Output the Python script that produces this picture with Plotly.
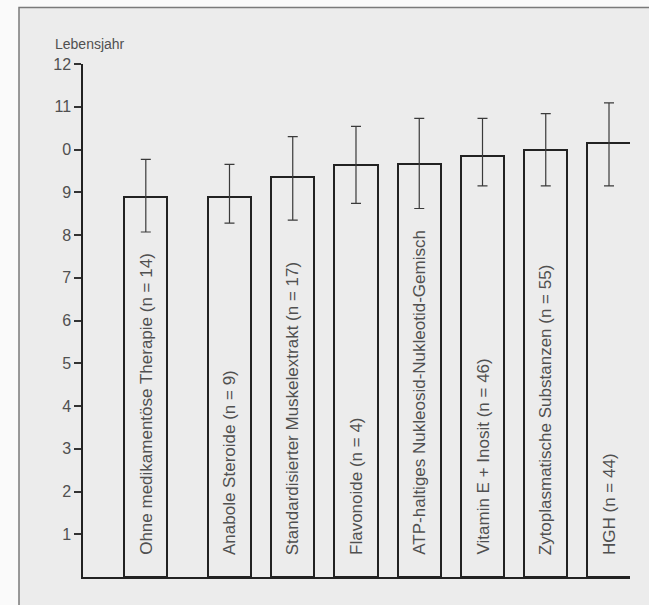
import numpy as np
import plotly.graph_objects as go

# Treatment groups and mean age (Lebensjahr) with asymmetric spread
categories = [
    "Ohne medikamentöse Therapie (n = 14)",
    "Anabole Steroide (n = 9)",
    "Standardisierter Muskelextrakt (n = 17)",
    "Flavonoide (n = 4)",
    "ATP-haltiges Nukleosid-Nukleotid-Gemisch",
    "Vitamin E + Inosit (n = 46)",
    "Zytoplasmatische Substanzen (n = 55)",
    "HGH (n = 44)",
]
mean_age = [8.89, 8.89, 9.36, 9.64, 9.67, 9.85, 9.98, 10.15]
upper = [9.77, 9.65, 10.30, 10.54, 10.73, 10.73, 10.84, 11.09]
lower = [8.07, 8.28, 8.35, 8.74, 8.62, 9.15, 9.15, 9.15]

tick_values = [1, 2, 3, 4, 5, 6, 7, 8, 9, 10, 11, 12]
tick_labels = ["1", "2", "3", "4", "5", "6", "7", "8", "9", "0", "11", "12"]

# Figure geometry
W, H = 649, 605
ML, MR, MT, MB = 83, 19, 64, 28
PW, PH = W - ML - MR, H - MT - MB

PANEL = "#ececec"
INK = "#222222"
TEXT = "#505050"
FONT = "Liberation Sans, Arial, sans-serif"

# The first group stands a little apart from the others
FIRST_GAP = 0.323
idx = np.arange(len(categories))
slot = idx + np.where(idx > 0, FIRST_GAP, 0.0)

err_plus = [u - m for u, m in zip(upper, mean_age)]
err_minus = [m - l for m, l in zip(mean_age, lower)]

fig = go.Figure()
fig.add_trace(go.Bar(
    x=slot,
    y=mean_age,
    width=0.68,
    marker=dict(color=PANEL, line=dict(color=INK, width=2)),
    error_y=dict(
        type="data", symmetric=False,
        array=err_plus, arrayminus=err_minus,
        color="#3a3a3a", thickness=1.2, width=5,
    ),
    hoverinfo="skip",
    showlegend=False,
))

# Group names written upward inside each bar
for xpos, name in zip(slot, categories):
    fig.add_annotation(
        x=xpos, y=0, xref="x", yref="y",
        text=name, textangle=-90, showarrow=False,
        xanchor="center", yanchor="bottom", yshift=20,
        font=dict(family=FONT, size=17, color=TEXT),
    )

# Axis title above the y axis
fig.add_annotation(
    x=(53 - ML) / PW, y=(H - MB - 44) / PH, xref="paper", yref="paper",
    text="Lebensjahr", showarrow=False, xanchor="left", yanchor="middle",
    font=dict(family=FONT, size=14, color=TEXT),
)

# Panel frame with a white margin along the top and left
fig.add_shape(
    type="rect", xref="paper", yref="paper", layer="below",
    x0=(19 - ML) / PW, x1=(W + 20 - ML) / PW,
    y0=(-(MB + 20)) / PH, y1=(H - MB - 7.5) / PH,
    fillcolor=PANEL, line=dict(color="#7a7a7a", width=1.5),
)

fig.update_xaxes(
    range=[-0.993, 7.655],
    showline=True, linecolor=INK, linewidth=1.5,
    showticklabels=False, ticks="", showgrid=False, zeroline=False,
    fixedrange=True,
)
fig.update_yaxes(
    range=[0, 12],
    tickmode="array", tickvals=tick_values, ticktext=tick_labels,
    ticks="outside", ticklen=7, tickwidth=1.5, tickcolor="#333333",
    showline=True, linecolor=INK, linewidth=1.5,
    showgrid=False, zeroline=False,
    tickfont=dict(family=FONT, size=16, color=TEXT),
    fixedrange=True,
)

fig.update_layout(
    width=W, height=H,
    margin=dict(l=ML, r=MR, t=MT, b=MB, pad=0),
    paper_bgcolor="#fafafa",
    plot_bgcolor="rgba(0,0,0,0)",
    bargap=0,
    font=dict(family=FONT, color=TEXT),
)

fig.write_html("out.html")
